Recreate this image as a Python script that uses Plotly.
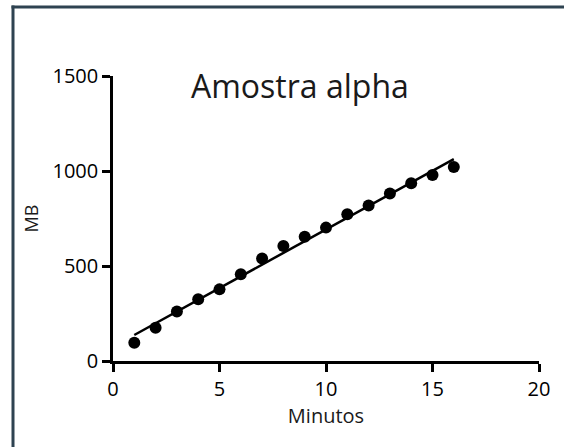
import numpy as np
import plotly.graph_objects as go

# Data
minutos = [1, 2, 3, 4, 5, 6, 7, 8, 9, 10, 11, 12, 13, 14, 15, 16]
mb = [96, 175, 260, 325, 377, 456, 539, 605, 654, 702, 772, 819, 882, 935, 979, 1021]
x_ticks = [0, 5, 10, 15, 20]
y_ticks = [0, 500, 1000, 1500]
title_text = "Amostra alpha"
x_title = "Minutos"
y_title = "MB"

# Linear fit through the data
slope, intercept = np.polyfit(minutos, mb, 1)
fit_x = [minutos[0], minutos[-1]]
fit_y = [slope * v + intercept for v in fit_x]

W, H = 564, 447
L, R, T, B = 113, 25, 76, 86
pw, ph = W - L - R, H - T - B

def px(xp):
    return (xp - L) / pw

def py(yp):
    return (H - B - yp) / ph

FONT = "Open Sans, Arial, sans-serif"

fig = go.Figure()
fig.add_trace(go.Scatter(x=fit_x, y=fit_y, mode="lines",
                         line=dict(color="black", width=2.5),
                         showlegend=False, hoverinfo="skip", cliponaxis=False))
fig.add_trace(go.Scatter(x=minutos, y=mb, mode="markers",
                         marker=dict(color="black", size=12, symbol="circle"),
                         showlegend=False, cliponaxis=False))

axis_common = dict(showgrid=False, zeroline=False, showline=True,
                   linecolor="black", linewidth=2.5, ticks="outside",
                   ticklen=8, tickwidth=2.5, tickcolor="black",
                   tickfont=dict(family=FONT, size=20, color="#000000"))

fig.update_xaxes(range=[0, 20], tickvals=x_ticks, ticktext=[str(v) for v in x_ticks],
                 title=dict(text=x_title, font=dict(family=FONT, size=20, color="#1a1a1a"),
                            standoff=9),
                 **axis_common)
fig.update_yaxes(range=[0, 1500], tickvals=y_ticks, ticktext=[str(v) for v in y_ticks],
                 title=dict(text=y_title, font=dict(family=FONT, size=18, color="#1a1a1a"),
                            standoff=10),
                 **axis_common)

fig.add_annotation(text=title_text, xref="paper", yref="paper",
                   x=px(300), y=py(85), xanchor="center", yanchor="middle",
                   showarrow=False, font=dict(family=FONT, size=32, color="#1a1a1a"))

# Frame around the picture (left and top edges visible), as filled bands
border = "#2e4351"
fig.add_shape(type="rect", xref="paper", yref="paper",
              x0=px(11.5), x1=px(14.5), y0=py(H), y1=py(5.5),
              fillcolor=border, line=dict(width=0), layer="above")
fig.add_shape(type="rect", xref="paper", yref="paper",
              x0=px(11.5), x1=px(W), y0=py(8.5), y1=py(5.5),
              fillcolor=border, line=dict(width=0), layer="above")

fig.update_layout(width=W, height=H, margin=dict(l=L, r=R, t=T, b=B),
                  plot_bgcolor="white", paper_bgcolor="white",
                  font=dict(family=FONT))

fig.write_html("out.html", config={"displayModeBar": False},
               post_script=("document.documentElement.style.margin='0';"
                            "document.documentElement.style.overflow='hidden';"
                            "document.body.style.margin='0';"
                            "document.body.style.overflow='hidden';"))
